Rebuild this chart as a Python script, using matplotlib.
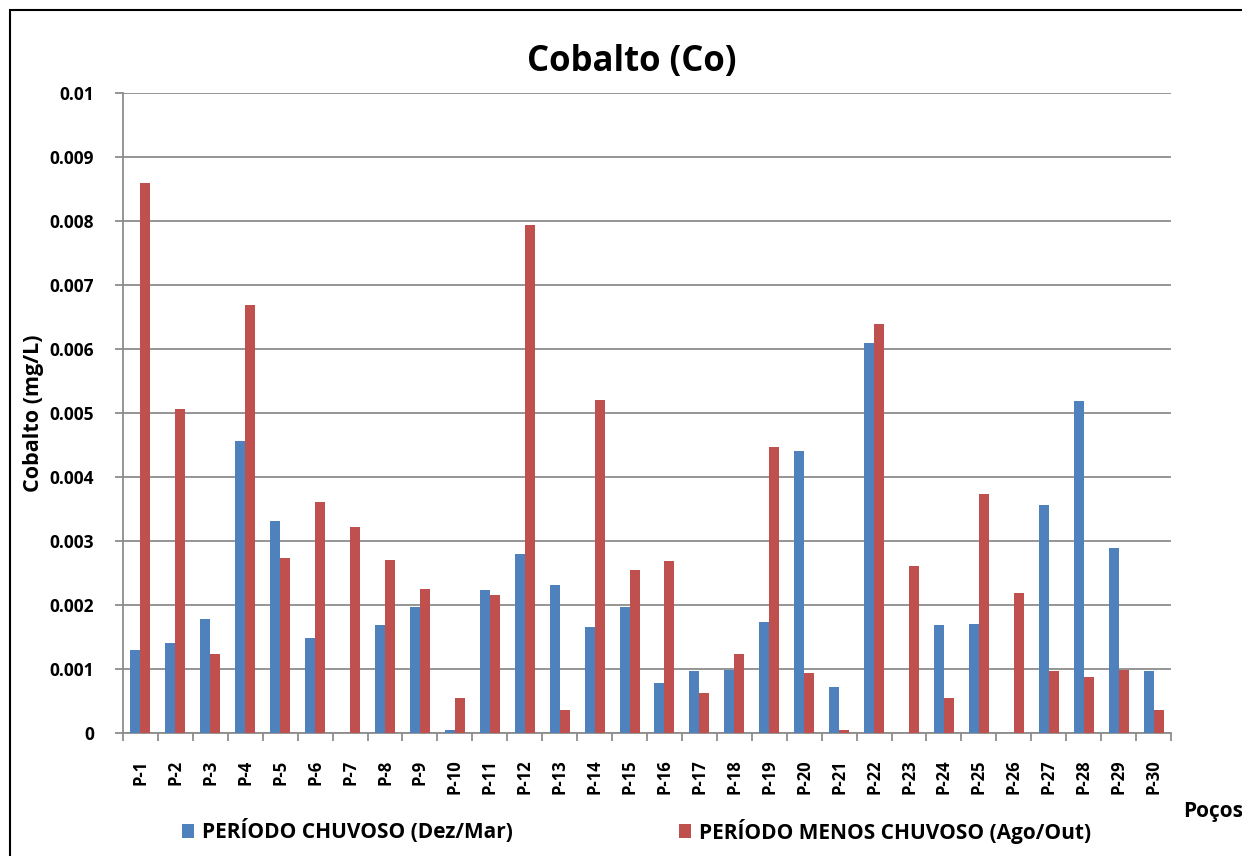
import matplotlib
matplotlib.use("Agg")
import matplotlib.pyplot as plt
import numpy as np
from matplotlib.patches import Rectangle

categories = [f"P-{i}" for i in range(1, 31)]
chuvoso = [0.00130, 0.00140, 0.00178, 0.00456, 0.00331, 0.00149, 0.0, 0.00168, 0.00197, 0.00004,
           0.00223, 0.00280, 0.00232, 0.00165, 0.00197, 0.00078, 0.00097, 0.00099, 0.00174, 0.00440,
           0.00072, 0.00610, 0.0, 0.00168, 0.00171, 0.0, 0.00357, 0.00518, 0.00289, 0.00097]
menos_chuvoso = [0.00860, 0.00507, 0.00123, 0.00668, 0.00274, 0.00361, 0.00322, 0.00270, 0.00225, 0.00055,
                 0.00216, 0.00793, 0.00036, 0.00520, 0.00254, 0.00268, 0.00062, 0.00123, 0.00447, 0.00094,
                 0.00004, 0.00639, 0.00261, 0.00055, 0.00373, 0.00219, 0.00097, 0.00088, 0.00099, 0.00036]
yticks = [0, 0.001, 0.002, 0.003, 0.004, 0.005, 0.006, 0.007, 0.008, 0.009, 0.01]
ytick_labels = ["0", "0.001", "0.002", "0.003", "0.004", "0.005", "0.006", "0.007", "0.008", "0.009", "0.01"]

FONT = ["Open Sans", "DejaVu Sans"]
plt.rcParams['font.family'] = FONT

W, H = 1242, 856
fig = plt.figure(figsize=(W / 100, H / 100), dpi=100)
ax = fig.add_axes([123 / W, 1 - 733 / H, (1171 - 123) / W, (733 - 93) / H])

x = np.arange(len(categories))
w = 0.2857
ax.bar(x - w / 2, chuvoso, width=w, color="#4F81BD", label="PERÍODO CHUVOSO (Dez/Mar)", zorder=3)
ax.bar(x + w / 2, menos_chuvoso, width=w, color="#C0504D", label="PERÍODO MENOS CHUVOSO (Ago/Out)", zorder=3)

ax.set_xlim(-0.5, len(categories) - 0.5)
ax.set_ylim(0, 0.01)
ax.set_yticks(yticks)
ax.set_yticklabels(ytick_labels, fontsize=12.5, fontweight="bold")
ax.yaxis.grid(True, color="#8c8c8c", linewidth=1.3, zorder=0)
ax.set_axisbelow(True)

# major ticks at boundaries (marks), labels at centers via minor ticks
ax.set_xticks(np.arange(-0.5, len(categories), 1.0))
ax.set_xticklabels([])
ax.set_xticks(x, minor=True)
ax.set_xticklabels(categories, minor=True, rotation=90, fontsize=12, fontweight="bold")
ax.tick_params(axis="x", which="minor", length=0, pad=19)
ax.tick_params(axis="x", which="major", length=6, color="#8c8c8c", width=1.3)
ax.tick_params(axis="y", length=6, color="#8c8c8c", width=1.3, pad=15)

for s in ["top", "right"]:
    ax.spines[s].set_visible(False)
for s in ["left", "bottom"]:
    ax.spines[s].set_color("#8c8c8c")
    ax.spines[s].set_linewidth(1.3)

ax.set_ylabel("Cobalto (mg/L)", fontsize=15.5, fontweight="bold")
ax.yaxis.set_label_coords((44 - 123) / 1048, 0.5)
fig.text(632 / W, 1 - 62 / H, "Cobalto (Co)", ha="center", va="center", fontsize=25, fontweight="bold")
fig.text(1183 / W, 1 - 812 / H, "Poços", ha="left", va="center", fontsize=15, fontweight="bold")

leg = fig.legend(loc="center left", bbox_to_anchor=(163 / W, 1 - 831 / H), ncol=2, frameon=False,
                 fontsize=15, handlelength=0.58, handleheight=0.62, handletextpad=0.4,
                 columnspacing=7.95, borderpad=0.4)
for t in leg.get_texts():
    t.set_fontweight("bold")

# figure border
fig.patches.append(Rectangle((10 / W, -0.05), 1.2, 0.05 + (H - 10) / H, transform=fig.transFigure,
                             fill=False, edgecolor="black", linewidth=1.5))

fig.savefig("out.png", dpi=100)
